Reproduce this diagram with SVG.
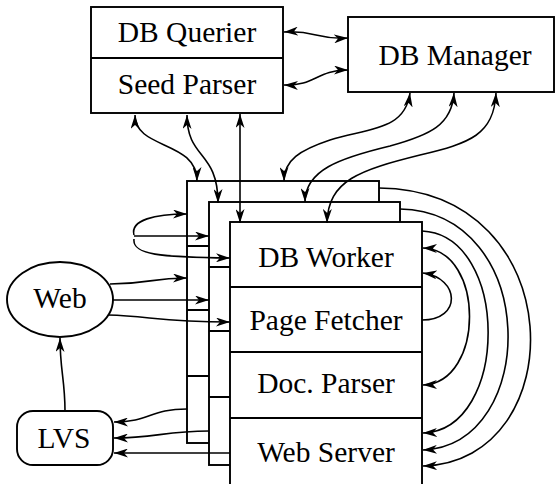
<svg xmlns="http://www.w3.org/2000/svg" width="556" height="484" viewBox="0 0 556 484">
<style>
.box{fill:#fff;stroke:#000;stroke-width:1.9}
.div{fill:none;stroke:#000;stroke-width:1.9}
.t{font-family:"Liberation Serif","Times New Roman",serif;font-size:29.5px;fill:#000;text-anchor:middle}
.c{fill:none;stroke:#000;stroke-width:1.6}
.a{marker-end:url(#ah)}
.aa{marker-start:url(#ah);marker-end:url(#ah)}
</style>
<defs>
<marker id="ah" viewBox="0 0 14 9" refX="14" refY="4.5" markerWidth="14" markerHeight="9" markerUnits="userSpaceOnUse" orient="auto-start-reverse">
<path d="M0,0 L14,4.5 L0,9 L4,4.5 z" fill="#000"/>
</marker>
</defs>
<rect width="556" height="484" fill="#fff"/>
<g id="querier-parser">
<rect class="box" x="91" y="7" width="192" height="106"/>
<line class="div" x1="91" y1="58" x2="283" y2="58"/>
<text class="t" x="187" y="42">DB Querier</text>
<text class="t" x="187" y="94">Seed Parser</text>
</g>
<g id="db-manager">
<rect class="box" x="348" y="17" width="206" height="75"/>
<text class="t" x="455" y="65">DB Manager</text>
</g>
<g id="worker-back">
<rect class="box" x="187" y="181" width="192" height="262"/>
<line class="div" x1="187" y1="246" x2="379" y2="246"/>
<line class="div" x1="187" y1="310" x2="379" y2="310"/>
<line class="div" x1="187" y1="376" x2="379" y2="376"/>
</g>
<g id="worker-middle">
<rect class="box" x="209" y="202" width="191" height="263"/>
<line class="div" x1="209" y1="267" x2="400" y2="267"/>
<line class="div" x1="209" y1="331" x2="400" y2="331"/>
<line class="div" x1="209" y1="397" x2="400" y2="397"/>
</g>
<g id="worker-front">
<rect class="box" x="230" y="222" width="192" height="270"/>
<line class="div" x1="230" y1="287" x2="422" y2="287"/>
<line class="div" x1="230" y1="352" x2="422" y2="352"/>
<line class="div" x1="230" y1="418" x2="422" y2="418"/>
<text class="t" x="326" y="267">DB Worker</text>
<text class="t" x="326" y="330">Page Fetcher</text>
<text class="t" x="326" y="393">Doc. Parser</text>
<text class="t" x="326" y="462">Web Server</text>
</g>
<g id="web">
<ellipse class="box" cx="60" cy="299.5" rx="53" ry="37.5"/>
<text class="t" x="60" y="308">Web</text>
</g>
<g id="lvs">
<rect class="box" x="17" y="411" width="96" height="54" rx="16" ry="16"/>
<text class="t" x="64" y="448">LVS</text>
</g>
<g id="connectors">
<path class="c aa" d="M284,32 C316,30 316,40 348,38"/>
<path class="c aa" d="M284,85 C316,86 316,70 348,70"/>
<path class="c aa" d="M135,115 C135,150 197,140 197,181"/>
<path class="c aa" d="M187,115 C187,160 218,150 218,203"/>
<path class="c aa" d="M240,114 L240,223"/>
<path class="c aa" d="M410,93 C405,130 370,128 330,140 C300,150 284,160 284,181"/>
<path class="c aa" d="M454,93 C452,125 430,135 390,146 C340,158 305,170 305,202"/>
<path class="c aa" d="M496,93 C494,135 470,143 420,155 C360,170 328,180 327,223"/>
<path class="c a" d="M134,235 C130,220 155,214 187,214"/>
<path class="c a" d="M134,236 L209,236"/>
<path class="c a" d="M134,239 C132,255 160,257 230,258"/>
<path class="c a" d="M110,284 C150,284 150,278 187,278"/>
<path class="c a" d="M113,300 L209,300"/>
<path class="c a" d="M108,315 C150,316 160,322 230,322"/>
<path class="c a" d="M65,411 C65,380 60,370 60,338"/>
<path class="c a" d="M187,409 C150,409 150,422 114,422"/>
<path class="c a" d="M209,431 C165,431 155,438 114,438"/>
<path class="c a" d="M230,453 L114,453"/>
<path class="c a" d="M422,320 C462,320 460,278 423,273"/>
<path class="c aa" d="M423,248 C485,250 485,383 423,385"/>
<path class="c a" d="M422,231 C510,235 510,430 423,433"/>
<path class="c a" d="M400,209 C540,212 540,445 423,450"/>
<path class="c a" d="M379,188 C573,190 573,462 423,466"/>
</g>
</svg>
